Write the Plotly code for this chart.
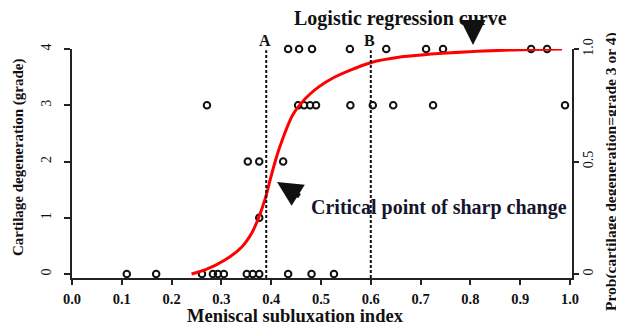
import plotly.graph_objects as go

# ---- data ----
grade0_x = [0.110, 0.169, 0.261, 0.283, 0.293, 0.305, 0.351, 0.363, 0.376, 0.434, 0.481, 0.526]
grade1_x = [0.376]
grade2_x = [0.353, 0.376, 0.424]
grade3_x = [0.271, 0.454, 0.466, 0.478, 0.490, 0.559, 0.604, 0.645, 0.725, 0.990]
grade4_x = [0.434, 0.456, 0.482, 0.558, 0.631, 0.711, 0.745, 0.922, 0.954]

curve_x = [0.240, 0.267, 0.307, 0.341, 0.361, 0.373, 0.388, 0.398, 0.408, 0.418,
           0.444, 0.478, 0.524, 0.598, 0.659, 0.753, 0.886, 0.984]
curve_p = [0.000, 0.018, 0.062, 0.120, 0.182, 0.240, 0.335, 0.420, 0.500, 0.570,
           0.710, 0.800, 0.871, 0.938, 0.964, 0.982, 0.996, 1.000]

line_A = 0.39
line_B = 0.60

x_ticks = [0.0, 0.1, 0.2, 0.3, 0.4, 0.5, 0.6, 0.7, 0.8, 0.9, 1.0]
x_ticklabels = ["0.0", "0.1", "0.2", "0.3", "0.4", "0.5", "0.6", "0.7", "0.8", "0.9", "1.0"]
grade_ticks = [0, 1, 2, 3, 4]
prob_ticks = [0, 0.5, 1.0]
prob_ticklabels = ["0", "0.5", "1.0"]

SERIF = "Liberation Serif"
INK = "#111111"

# the page body has an 8px margin, so the figure is drawn 8px in from the top-left
OFF = 8
W, H = 624 - OFF, 327 - OFF
PL, PR, PT, PB = 72, 572, 49, 278          # plot area in window pixels
ml, mr, mt, mb = PL - OFF, W - (PR - OFF), PT - OFF, H - (PB - OFF)
pw, ph = W - ml - mr, H - mt - mb


def px(xp):
    return (xp - OFF - ml) / pw


def py(yp):
    return 1 - (yp - OFF - mt) / ph


fig = go.Figure()

groups = [(grade0_x, 0), (grade1_x, 1), (grade2_x, 2), (grade3_x, 3), (grade4_x, 4)]
for xs, g in groups:
    fig.add_trace(go.Scatter(
        x=xs, y=[g] * len(xs), mode="markers", cliponaxis=False,
        marker=dict(symbol="circle-open", size=6.5, color=INK, line=dict(width=2, color=INK)),
        showlegend=False, hoverinfo="skip"))

fig.add_trace(go.Scatter(
    x=curve_x, y=curve_p, yaxis="y2", mode="lines", cliponaxis=False,
    line=dict(color="#ff0000", width=3, shape="spline", smoothing=0.8),
    showlegend=False, hoverinfo="skip"))

g_lo, g_hi = -0.071, 4.0

for xv in (line_A, line_B):
    fig.add_shape(type="line", xref="x", yref="y", x0=xv, x1=xv, y0=g_lo, y1=3.98,
                  line=dict(color=INK, width=2, dash="3px,2px"), layer="above")

ann = []


def text_ann(text, xp, yp, size, angle=0, color=INK):
    ann.append(dict(text=text, x=px(xp), y=py(yp), xref="paper", yref="paper",
                    xanchor="center", yanchor="middle", showarrow=False, textangle=angle,
                    font=dict(family=SERIF, size=size, color=color)))


text_ann("<b>A</b>", 265, 40, 16)
text_ann("<b>B</b>", 369, 40, 16)
text_ann("<b>Logistic regression curve</b>", 400, 19, 20)
text_ann("<b>Critical point of sharp change</b>", 439, 207, 20, color="#15152e")
text_ann("<b>Meniscal subluxation index</b>", 295, 316, 18.5)
text_ann("<b>Cartilage degeneration (grade)</b>", 18, 158, 15, angle=-90)
text_ann("<b>Prob(cartilage degeneration=grade 3 or 4)</b>", 611, 172, 15.5, angle=-90)

# arrows (pixel positions converted to paper coordinates)
ann.append(dict(text="", x=px(277), y=py(182), xref="paper", yref="paper", ax=24, ay=15,
                showarrow=True, arrowhead=2, arrowsize=1.0, arrowwidth=5, arrowcolor=INK))
ann.append(dict(text="", x=px(473), y=py(45), xref="paper", yref="paper", ax=0, ay=-21,
                showarrow=True, arrowhead=2, arrowsize=1.0, arrowwidth=5, arrowcolor=INK))

fig.update_layout(
    width=W, height=H,
    margin=dict(l=ml, r=mr, t=mt, b=mb, pad=0, autoexpand=False),
    paper_bgcolor="white", plot_bgcolor="white",
    showlegend=False,
    annotations=ann,
    xaxis=dict(range=[0, 1.004], tickvals=x_ticks, ticktext=x_ticklabels, automargin=False,
               showline=True, linecolor="#222", linewidth=1.5, mirror=False,
               ticks="outside", ticklen=5, tickwidth=1.5, tickcolor="#222",
               showgrid=False, zeroline=False, ticklabelstandoff=2,
               tickfont=dict(family=SERIF, size=14.5, color=INK, weight="bold")),
    yaxis=dict(range=[g_lo, g_hi], tickvals=grade_ticks, automargin=False,
               showline=True, linecolor="#222", linewidth=1.5,
               ticks="outside", ticklen=6, tickwidth=1.5, tickcolor="#222",
               showgrid=False, zeroline=False, tickangle=-90, ticklabelstandoff=8,
               tickfont=dict(family=SERIF, size=14, color=INK)),
    yaxis2=dict(range=[g_lo / 4, g_hi / 4], overlaying="y", side="right", automargin=False,
                tickvals=prob_ticks, ticktext=prob_ticklabels,
                showline=True, linecolor="#222", linewidth=1.5,
                ticks="outside", ticklen=5, tickwidth=1.5, tickcolor="#222",
                showgrid=False, zeroline=False, tickangle=-90, ticklabelstandoff=-3,
                tickfont=dict(family=SERIF, size=14, color=INK)),
)

fig.write_html("out.html")
